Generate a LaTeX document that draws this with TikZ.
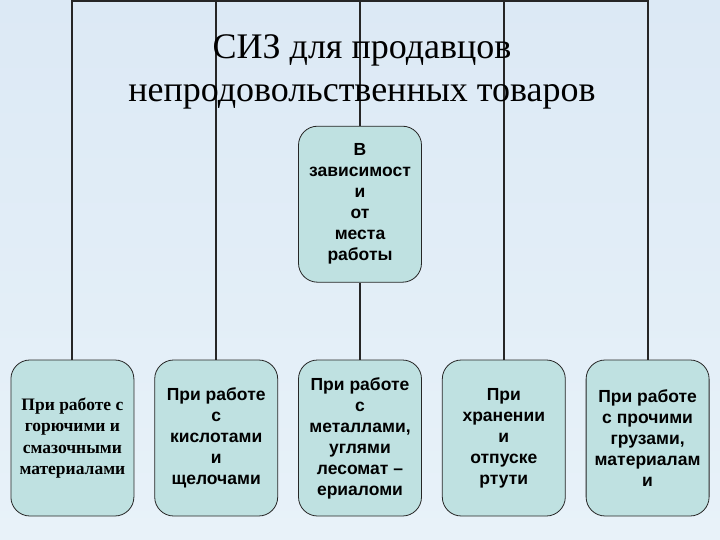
\documentclass[tikz,border=0pt]{standalone}
\usepackage{fontspec}
\setmainfont{Liberation Serif}
\setsansfont{Liberation Sans}
\usetikzlibrary{positioning}
\definecolor{boxfill}{HTML}{BFE1E1}
\definecolor{bgtop}{HTML}{DCE9F5}
\definecolor{bgbottom}{HTML}{E8F2F9}

\begin{document}
\begin{tikzpicture}
        [x=1pt, y=-1pt,
        every node/.style={align=center, inner sep=0pt},
        box/.style={draw=black!85, thick, fill=boxfill, rounded corners=19pt,
        minimum width=123pt, minimum height=156pt,
        font=\sffamily\bfseries\fontsize{17.5}{21}\selectfont},
        link/.style={draw=black!85, line width=2pt},
        node distance=20pt]
        % background
        \shade[top color=bgtop, bottom color=bgbottom] (0,0) rectangle (720,540);
        \useasboundingbox (0,0) rectangle (720,540);
        % boxes
        \node[box] (metal) at (360,438) {При работе\\с\\металлами,\\углями\\лесомат --\\ериаломи};
        \node[box, left=of metal] (acid) {При работе\\с\\кислотами\\и\\щелочами};
        \node[box, left=of acid, font=\rmfamily\bfseries\fontsize{17.5}{21.5}\selectfont] (fuel)
            {При работе с\\ горючими и\\смазочными\\материалами};
        \node[box, right=of metal] (merc) {При\\хранении\\и\\отпуске\\ртути};
        \node[box, right=of merc] (other) {При работе\\с прочими\\грузами,\\материалам\\и};
        \node[box, above=77pt of metal] (place) {В\\зависимост\\и\\ от\\места\\работы};
        % connectors
        \draw[link] (fuel.north) -- (fuel.north |- 0,1) -| (other.north);
        \draw[link] (acid.north) -- (acid.north |- 0,1);
        \draw[link] (merc.north) -- (merc.north |- 0,1);
        \draw[link] (place.north) -- (place.north |- 0,1);
        \draw[link] (place.south) -- (metal.north);
        % title
        \node[font=\fontsize{36}{43}\selectfont] (title) at (362,72)
            {СИЗ для продавцов\\непродовольственных товаров};
\end{tikzpicture}
\end{document}
